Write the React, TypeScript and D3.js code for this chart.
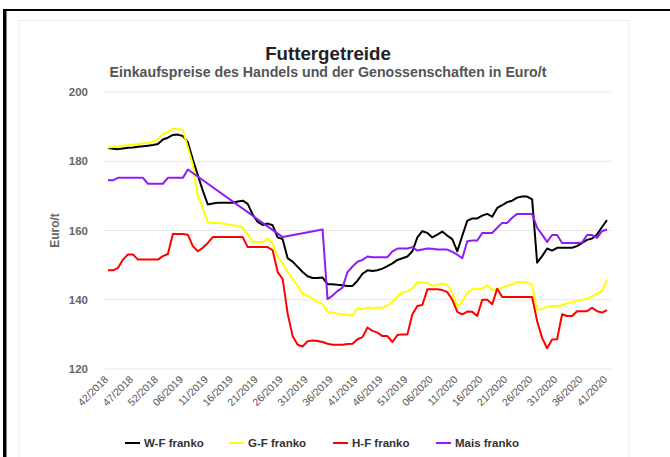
import React from 'react';
import * as d3 from 'd3';

// weekly categories, only every 5th one is labelled on the axis
const tickLabels = [
  '42/2018', '47/2018', '52/2018', '06/2019', '11/2019', '16/2019', '21/2019',
  '26/2019', '31/2019', '36/2019', '41/2019', '46/2019', '51/2019', '06/2020',
  '11/2020', '16/2020', '21/2020', '26/2020', '31/2020', '36/2020', '41/2020',
];
const yTicks = [120, 140, 160, 180, 200];

const wfFranko = [
  183.8, 183.6, 183.5, 183.7, 183.9, 184.0, 184.2, 184.3, 184.5, 184.7,
  185.0, 186.3, 186.8, 187.6, 187.7, 187.3, 185.5, 180.5, 176.0, 171.5,
  167.5, 167.8, 168.0, 168.0, 168.0, 168.0, 168.4, 168.6, 167.7, 164.6,
  162.5, 161.6, 162.0, 161.5, 158.0, 157.5, 152.0, 151.0, 149.5, 148.0,
  146.8, 146.3, 146.3, 146.4, 144.5, 144.5, 144.3, 144.2, 144.0, 144.0,
  145.5, 147.5, 148.5, 148.3, 148.5, 149.0, 149.7, 150.5, 151.5, 152.0,
  152.5, 154.0, 158.0, 159.8, 159.3, 158.0, 158.8, 159.7, 158.5, 157.5,
  154.0, 158.5, 162.8, 163.5, 163.5, 164.3, 164.8, 164.0, 166.5, 167.3,
  168.2, 168.6, 169.5, 169.8, 169.8, 169.0, 150.7, 152.6, 154.8, 154.2,
  155.0, 155.0, 155.0, 155.0, 155.5, 156.4, 157.3, 157.7, 158.8, 161.0,
  163.0,
];

const gfFranko = [
  184.0, 184.1, 184.2, 184.5, 184.7, 184.8, 185.0, 185.2, 185.3, 185.6,
  186.5, 187.8, 188.4, 189.4, 189.3, 189.0, 184.0, 179.0, 170.0, 166.5,
  162.3, 162.2, 162.2, 162.0, 161.8, 161.5, 161.3, 160.8, 158.8, 156.8,
  156.7, 156.7, 157.7, 156.2, 152.5, 150.5, 148.0, 146.0, 144.0, 141.7,
  141.2, 140.3, 139.3, 138.8, 136.5, 136.3, 136.0, 135.8, 135.7, 135.4,
  137.5, 137.3, 137.8, 137.5, 137.7, 137.7, 138.3, 139.3, 141.0, 142.2,
  142.4, 143.3, 145.0, 145.0, 144.8, 144.0, 144.3, 144.7, 144.2, 142.0,
  138.0, 139.5, 142.0, 143.0, 143.2, 143.2, 144.2, 142.8, 143.0, 143.5,
  144.0, 144.4, 145.1, 145.1, 145.0, 144.2, 137.0, 137.3, 138.0, 138.2,
  138.2, 138.4, 139.0, 139.3, 139.7, 140.0, 140.3, 141.0, 141.8, 142.5,
  145.8,
];

const hfFranko = [
  148.5, 148.5, 149.2, 151.6, 153.1, 153.1, 151.6, 151.6, 151.6, 151.6,
  151.6, 152.6, 153.2, 159.0, 159.0, 159.0, 158.8, 155.5, 154.0, 155.0,
  156.4, 158.1, 158.1, 158.1, 158.1, 158.1, 158.1, 158.1, 155.2, 155.2,
  155.2, 155.2, 155.2, 154.3, 148.0, 146.0, 136.0, 129.5, 127.0, 126.5,
  128.0, 128.2, 128.1, 127.8, 127.3, 127.0, 127.0, 127.0, 127.2, 127.3,
  128.6, 129.2, 132.0, 131.0, 130.5, 129.5, 129.5, 127.8, 129.8, 130.0,
  130.0, 135.8, 138.2, 138.5, 143.0, 143.0, 143.0, 142.8, 142.2, 140.0,
  136.5, 135.8, 136.6, 136.5, 135.3, 140.0, 140.0, 138.7, 143.2, 140.8,
  140.8, 140.8, 140.8, 140.8, 140.8, 140.8, 133.8, 129.0, 126.0, 128.5,
  128.6, 135.8, 135.3, 135.3, 136.7, 136.7, 136.7, 137.7, 136.7, 136.3,
  137.0,
];

// gaps (null) are bridged by a straight line, as in the original chart
const maisFranko = [
  174.5, 174.5, 175.2, 175.2, 175.2, 175.2, 175.2, 175.2, 173.5, 173.5,
  173.5, 173.5, 175.2, 175.2, 175.2, 175.2, 177.6, null, null, null,
  null, null, null, null, null, null, null, null, null, null,
  null, null, null, null, null, 158.1, null, null, null, null,
  null, null, null, 160.3, 140.2, 141.2, 142.5, 143.5, 148.0, 149.6,
  151.0, 151.5, 152.5, 152.3, 152.3, 152.3, 152.3, 154.0, 154.8, 154.8,
  154.8, 155.2, 154.2, 154.5, 154.8, 154.7, 154.5, 154.5, 154.5, 153.8,
  153.0, 152.0, 156.9, 157.1, 157.1, 159.3, 159.3, 159.3, 160.8, 162.2,
  162.2, 163.7, 164.8, 164.8, 164.8, 164.8, 160.8, 158.8, 156.7, 158.7,
  158.7, 156.4, 156.4, 156.4, 156.4, 156.5, 158.7, 158.7, 157.9, 159.8,
  160.3,
];

const seriesNames = ['W-F franko', 'G-F franko', 'H-F franko', 'Mais franko'];
const seriesColors = ['#000000', '#ffff00', '#ff0000', '#8f1cf5'];
const seriesData = [wfFranko, gfFranko, hfFranko, maisFranko];

const width = 670;
const height = 457;
const font = '"Liberation Sans", Arial, sans-serif';

export default function App() {
  const x = d3.scaleLinear().domain([0, wfFranko.length - 1]).range([108, 607]);
  const y = d3.scaleLinear().domain([120, 200]).range([369, 92]);

  const line = d3.line<[number, number]>()
    .x(d => x(d[0]))
    .y(d => y(d[1]));

  const paths = seriesData.map(vals => {
    const pts = vals
      .map((v, i) => [i, v] as [number, number | null])
      .filter(d => d[1] != null) as [number, number][];
    return line(pts) || '';
  });

  const legendX = [125, 229, 333, 436];

  return (
    <svg width={width} height={height} style={{ position: 'fixed', left: 0, top: 0, background: '#fff' }}>
      {/* outer frame */}
      <rect x={3} y={9} width={width} height={2} fill="#000" />
      <rect x={3} y={9} width={3.5} height={height} fill="#000" />
      {/* card */}
      <rect x={19} y={20.5} width={610} height={460} fill="#fff" stroke="#ececec" strokeWidth={1} />

      <text x={328} y={60} textAnchor="middle" fontFamily={font} fontWeight="bold" fontSize={18.7} fill="#222">
        Futtergetreide
      </text>
      <text x={328} y={77} textAnchor="middle" fontFamily={font} fontWeight="bold" fontSize={14.2} fill="#555">
        Einkaufspreise des Handels und der Genossenschaften in Euro/t
      </text>

      {/* grid + y axis */}
      {yTicks.map(t => (
        <g key={t}>
          <line x1={105} x2={611} y1={y(t)} y2={y(t)} stroke="#e6e6e6" strokeWidth={1} />
          <text x={88} y={y(t) + 4} textAnchor="end" fontFamily={font} fontWeight="bold" fontSize={11.5} fill="#666">
            {t}
          </text>
        </g>
      ))}
      <text
        transform={`translate(59, ${y(160)}) rotate(-90)`}
        textAnchor="middle"
        fontFamily={font}
        fontWeight="bold"
        fontSize={12}
        fill="#666"
      >
        Euro/t
      </text>

      {/* x axis labels */}
      {tickLabels.map((lab, k) => (
        <text
          key={lab}
          transform={`translate(${x(k * 5) + 1}, 380) rotate(-45)`}
          textAnchor="end"
          fontFamily={font}
          fontSize={10.5}
          fill="#555"
        >
          {lab}
        </text>
      ))}

      {/* lines */}
      {paths.map((p, k) => (
        <path key={seriesNames[k]} d={p} fill="none" stroke={seriesColors[k]} strokeWidth={2} strokeLinejoin="round" />
      ))}

      {/* legend */}
      {seriesNames.map((name, k) => (
        <g key={name} transform={`translate(${legendX[k]}, 443)`}>
          <line x1={0} x2={15} y1={0} y2={0} stroke={seriesColors[k]} strokeWidth={2} />
          <text x={19} y={4} fontFamily={font} fontWeight="bold" fontSize={11.5} fill="#333">
            {name}
          </text>
        </g>
      ))}
    </svg>
  );
}
